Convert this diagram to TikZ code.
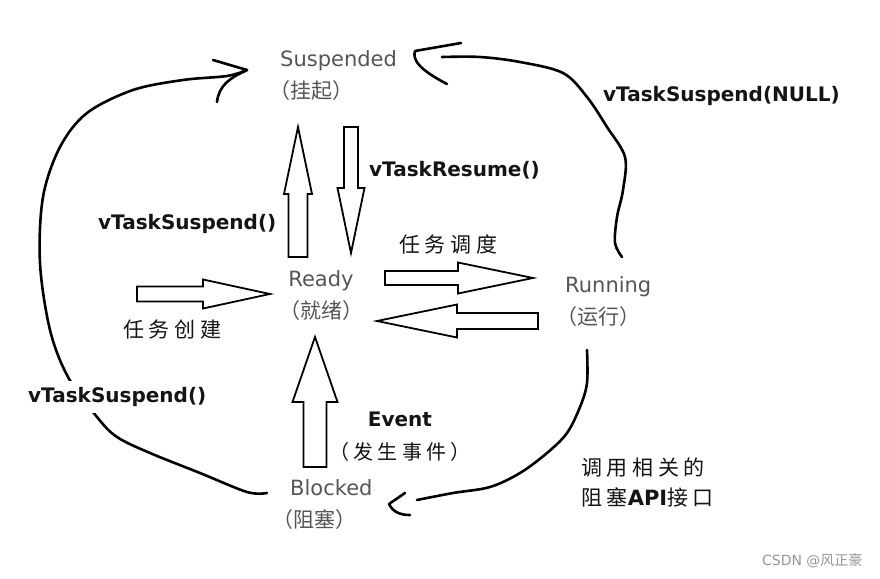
\documentclass[tikz,border=0pt]{standalone}
\usepackage{fontspec}
\setmainfont{DejaVu Sans}
\newfontfamily\cjk{Noto Sans CJK SC}
\newfontfamily\cjkwide{Noto Sans CJK SC}[LetterSpace=22]
\usetikzlibrary{calc}

\definecolor{stategray}{RGB}{85,85,85}
\definecolor{inkblack}{RGB}{20,20,20}
\definecolor{markgray}{RGB}{150,150,150}

\tikzset{
  state/.style={anchor=west, align=left, inner sep=0pt, text=stategray,
    font=\fontsize{21}{32}\selectfont},
  call/.style={anchor=west, inner sep=1pt, text=inkblack,
    font=\bfseries\fontsize{20}{33}\selectfont},
  note/.style={anchor=west, inner sep=1pt, text=inkblack,
    font=\cjkwide\fontsize{21}{30}\selectfont},
  hand/.style={line width=2.6pt, line cap=round, line join=round},
  fat/.style={draw, line width=1.8pt, fill=white, line join=miter},
}

% hollow block arrow: tail, tip, half shaft, half head, head length
\newcommand\fatarrow[5]{%
  \coordinate (fa-h) at ($(#2)!#5!(#1)$);
  \draw[fat] ($(#1)!#3!90:(#2)$) -- ($(fa-h)!#3!90:(#2)$) -- ($(fa-h)!#4!90:(#2)$)
    -- (#2) -- ($(fa-h)!#4!-90:(#2)$) -- ($(fa-h)!#3!-90:(#2)$)
    -- ($(#1)!#3!-90:(#2)$) -- cycle;
}

\begin{document}
\begin{tikzpicture}[x=1pt, y=-1pt]
\useasboundingbox (0,0) rectangle (880,578);

% states
\node[state] (susp) at (280,76)
  {Suspended\\\cjk\fontsize{21}{32}\selectfont\hspace*{-11pt}（挂起）};
\node[state, anchor=center, align=center] (ready) at (321,296)
  {Ready\\\cjk\fontsize{21}{32}\selectfont（就绪）};
\node[state] (run) at (565,302)
  {Running\\\cjk\fontsize{21}{32}\selectfont\hspace*{-9pt}（运行）};
\node[state] (block) at (290,505)
  {Blocked\\\cjk\fontsize{21}{32}\selectfont\hspace*{-18pt}（阻塞）};

% labels
\node[call] (lnull) at (602,96) {vTaskSuspend(NULL)};
\node[call] (lresume) at (368,170) {vTaskResume()};
\node[call] (lsusp) at (97,224) {vTaskSuspend()};
\node[note] (lsched) at (398,244) {任务调度};
\node[note] (lcreate) at (122,330) {任务创建};
\node[call, anchor=center, align=center] (levent) at (400,437)
  {Event\\\cjkwide\mdseries（发生事件）};
\node[note, align=left] (lblock) at (580,482)
  {调用相关的\\阻塞{\rmfamily\bfseries API}接口};
\node[anchor=east, text=markgray, font=\fontsize{14}{16}\selectfont] (mark)
  at (866,561) {CSDN @{\cjk 风正豪}};

% block arrows
\coordinate (r2s-tail) at (298,257);
\coordinate (r2s-tip) at (298,127);
\coordinate (s2r-tail) at (351,127);
\coordinate (s2r-tip) at (351,253);
\coordinate (new-tail) at (137,294);
\coordinate (new-tip) at (270,294);
\coordinate (r2run-tail) at (385,278);
\coordinate (r2run-tip) at (533,278);
\coordinate (run2r-tail) at (538,321);
\coordinate (run2r-tip) at (377,321);
\coordinate (b2r-tail) at (315,467);
\coordinate (b2r-tip) at (315,337);
\fatarrow{r2s-tail}{r2s-tip}{9.5pt}{14pt}{67pt}
\fatarrow{s2r-tail}{s2r-tip}{7pt}{13.5pt}{65pt}
\fatarrow{new-tail}{new-tip}{7.5pt}{14.5pt}{67pt}
\fatarrow{r2run-tail}{r2run-tip}{7pt}{15.5pt}{75pt}
\fatarrow{run2r-tail}{run2r-tip}{8pt}{16.5pt}{80pt}
\fatarrow{b2r-tail}{b2r-tip}{11.5pt}{22.5pt}{65pt}

% hand drawn arrows
\coordinate (blk-w) at (267,493);
\coordinate (sus-w) at (247,70);
\coordinate (run-n) at (622,257);
\coordinate (sus-e) at (415,51);
\coordinate (run-s) at (587,350);
\coordinate (blk-e) at (389,504);

\draw[hand] plot[smooth, tension=0.55] coordinates {(blk-w) (247,492) (200,473)
  (150,453) (117,437) (97,417) (68,377) (50,330) (40,263) (43,197) (60,147)
  (87,113) (133,90) (183,80) (227,76) (sus-w)};
\draw[hand] (213,60) -- (sus-w);
\draw[hand] (217,102) .. controls (219,85) and (230,78) .. (sus-w);

\draw[hand] plot[smooth, tension=0.55] coordinates {(run-n) (615,243) (617,217)
  (623,190) (625,157) (607,127) (587,97) (563,73) (520,62) (480,57) (442,57)};
\draw[hand] (461,43) -- (sus-e) .. controls (412,60) and (420,70) .. (447,84);

\draw[hand] plot[smooth, tension=0.55] coordinates {(run-s) (587,383) (580,407)
  (567,433) (547,453) (520,473) (490,487) (453,493) (417,500)};
\draw[hand] (405,493) -- (blk-e) .. controls (393,512) and (400,515) .. (410,515);

\node[call, fill=white, inner sep=6pt] (lsusp2) at (22,397) {vTaskSuspend()};

\end{tikzpicture}
\end{document}
